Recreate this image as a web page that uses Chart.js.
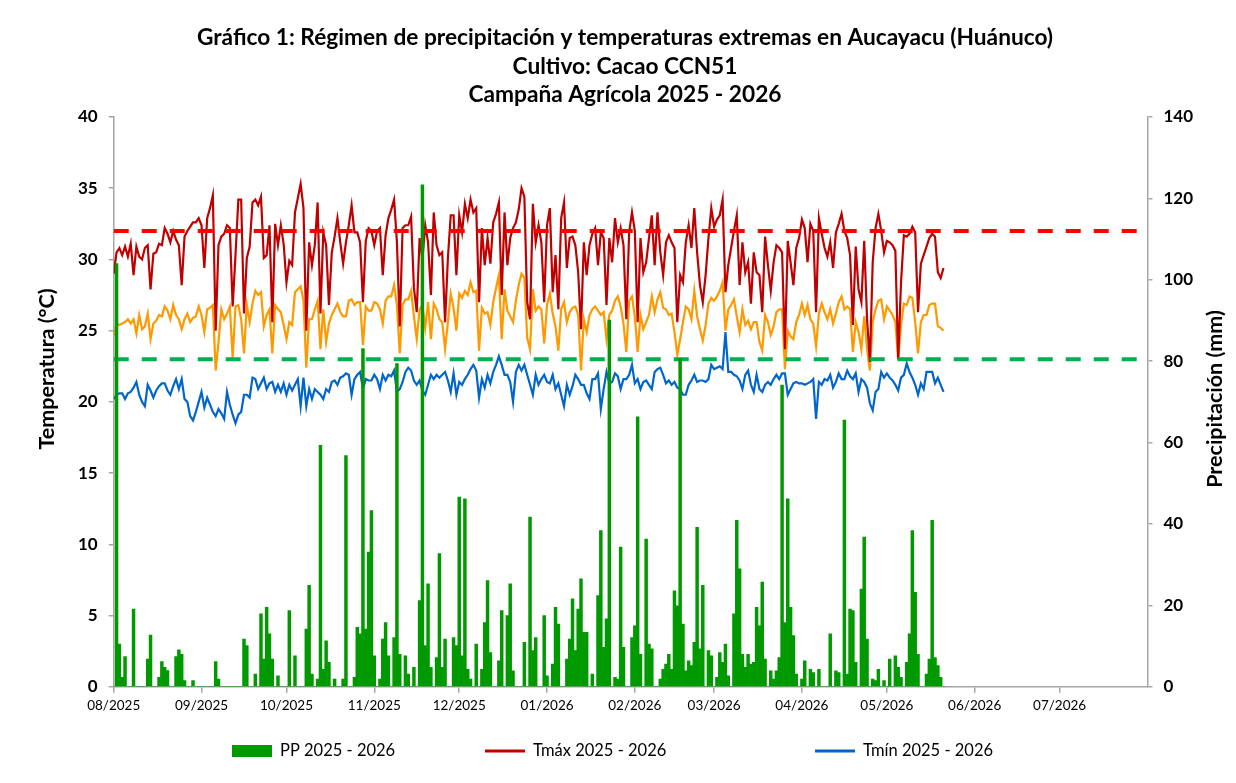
<!DOCTYPE html>
<html lang="es">
<head>
<meta charset="utf-8">
<title>Aucayacu - precipitación y temperaturas</title>
<script src="https://cdn.jsdelivr.net/npm/chart.js@4.4.1/dist/chart.umd.min.js"></script>
<style>
  html, body { margin: 0; padding: 0; background: #fff; }
  #marco { width: 1236px; height: 783px; }
  canvas { display: block; }
</style>
</head>
<body>
<div id="marco"><canvas id="grafico" width="1236" height="783"></canvas></div>
<script>
// etiquetas del eje X (inicio de cada mes)
const mesesTicks = ['08/2025', '09/2025', '10/2025', '11/2025', '12/2025', '01/2026',
                    '02/2026', '03/2026', '04/2026', '05/2026', '06/2026', '07/2026'];

// umbrales (°C)
const umbralTmax = 32;
const umbralTmin = 23;

// series diarias desde el 01/08/2025
const tmax = [
  29.0, 30.5, 30.8, 30.3, 30.9, 30.2, 31.1, 28.9, 30.9, 30.2,
  30.0, 30.8, 31.0, 27.9, 30.4, 30.5, 31.1, 31.0, 32.2, 31.8,
  31.2, 32.0, 31.4, 31.0, 28.2, 31.6, 32.0, 32.3, 32.6, 32.6,
  32.9, 32.4, 29.4, 32.9, 33.6, 34.5, 25.0, 31.0, 31.6, 31.8,
  32.4, 32.2, 26.7, 30.3, 34.2, 34.2, 26.2, 30.1, 30.9, 34.0,
  34.2, 33.8, 34.4, 30.1, 30.3, 32.4, 25.6, 32.5, 31.0, 32.4,
  31.1, 28.4, 29.9, 29.6, 33.3, 34.3, 35.3, 33.6, 25.0, 31.2,
  29.6, 31.0, 34.0, 26.2, 31.9, 31.0, 26.8, 30.5, 31.6, 32.9,
  31.2, 29.7, 31.2, 32.4, 33.8, 31.9, 31.9, 31.2, 27.0, 31.3,
  32.2, 32.0, 31.0, 32.0, 32.2, 28.9, 31.7, 32.9, 33.5, 34.2,
  31.2, 25.3, 32.2, 32.4, 32.4, 33.0, 28.0, 26.3, 31.5, 30.0,
  32.4, 31.2, 27.5, 33.3, 31.0, 30.3, 30.5, 25.6, 30.1, 33.1,
  33.1, 28.9, 33.1, 31.9, 33.9, 32.9, 34.2, 33.3, 33.6, 27.0,
  32.2, 29.6, 31.5, 29.7, 32.6, 33.2, 34.0, 27.5, 33.3, 29.6,
  31.5, 32.2, 32.6, 33.5, 35.0, 34.4, 27.0, 25.8, 33.9, 31.2,
  32.4, 31.2, 27.0, 32.4, 33.6, 27.7, 30.3, 26.5, 32.9, 34.0,
  29.4, 31.5, 31.6, 31.0, 29.1, 25.1, 31.2, 28.9, 31.0, 31.8,
  32.2, 29.6, 31.9, 31.5, 26.8, 31.5, 29.8, 32.9, 31.2, 32.2,
  31.0, 25.8, 31.9, 33.3, 32.0, 25.6, 31.5, 29.1, 29.8, 31.5,
  33.1, 29.6, 33.3, 30.5, 28.9, 31.2, 31.7, 31.2, 30.8, 25.6,
  28.9, 28.4, 31.2, 32.4, 30.8, 33.6, 30.5, 28.2, 27.0, 28.9,
  31.5, 33.6, 32.3, 32.8, 33.1, 34.2, 27.7, 29.6, 30.8, 32.0,
  33.1, 28.2, 31.2, 29.1, 29.8, 26.9, 30.5, 29.1, 28.9, 26.3,
  31.6, 29.6, 27.8, 29.8, 31.0, 30.8, 30.5, 23.7, 31.3, 29.8,
  28.2, 30.8, 31.5, 32.8, 32.2, 29.8, 32.5, 32.0, 26.3, 32.9,
  31.8, 30.8, 30.2, 31.2, 29.4, 31.9, 32.5, 33.2, 32.0, 31.5,
  30.3, 25.4, 30.9, 27.9, 27.0, 31.3, 25.8, 22.8, 29.8, 32.2,
  33.2, 32.0, 30.5, 31.3, 31.2, 31.0, 30.6, 23.0, 28.4, 31.7,
  31.6, 31.8, 32.3, 31.9, 26.3, 29.7, 30.3, 30.9, 31.5, 31.8,
  31.6, 29.1, 28.7, 29.4
];

const tmed = [
  24.6, 25.5, 25.4, 25.5, 25.6, 25.8, 25.5, 25.8, 24.8, 26.1,
  25.1, 25.3, 26.2, 24.4, 25.5, 25.7, 26.1, 26.0, 26.7, 26.4,
  25.8, 26.8, 26.1, 25.8, 25.1, 25.8, 26.2, 25.6, 25.9, 26.0,
  26.7, 26.1, 24.9, 26.5, 26.6, 26.8, 22.2, 24.2, 26.5, 25.8,
  26.2, 26.7, 23.1, 26.7, 26.8, 25.8, 23.4, 26.8, 25.6, 26.9,
  27.8, 27.5, 27.7, 25.3, 26.1, 26.5, 23.4, 26.8, 26.5, 26.3,
  25.4, 24.4, 25.6, 25.4, 27.7, 27.9, 28.1, 27.1, 22.4, 25.8,
  25.8, 26.5, 27.1, 23.7, 26.5, 24.2, 25.5, 26.1, 26.5, 26.9,
  26.3, 26.0, 26.0, 27.1, 27.2, 26.8, 27.0, 27.0, 24.0, 26.7,
  26.4, 26.4, 27.0, 26.9, 26.5, 25.5, 27.1, 27.4, 27.4, 28.2,
  26.8, 23.4, 26.8, 27.2, 27.2, 27.8, 26.0, 24.4, 26.5, 26.8,
  25.2, 27.0, 24.4, 26.9, 26.5, 25.8, 25.6, 23.7, 25.6, 27.6,
  26.6, 25.0, 27.6, 27.3, 27.8, 27.5, 28.4, 27.7, 27.8, 23.6,
  26.6, 26.2, 26.3, 25.4, 27.0, 28.0, 28.9, 24.4, 27.9, 26.4,
  26.0, 25.6, 27.1, 28.2, 29.0, 28.7, 24.5, 23.7, 27.9, 26.4,
  26.7, 26.5, 24.1, 26.8, 27.6, 26.2, 25.3, 23.6, 26.5, 27.0,
  25.6, 26.3, 26.6, 26.7, 26.1, 22.2, 25.8, 24.9, 26.1, 26.5,
  26.7, 26.4, 26.1, 26.3, 24.4, 26.1, 26.4, 27.1, 27.4, 26.7,
  25.5, 23.5, 27.1, 27.4, 26.0, 23.5, 26.1, 25.1, 25.6, 26.1,
  27.4, 26.3, 27.2, 27.7, 26.6, 26.5, 26.1, 26.2, 24.9, 23.3,
  24.4, 25.6, 26.7, 26.5, 25.8, 27.8, 26.0, 25.1, 24.3, 25.4,
  26.9, 27.3, 27.1, 27.4, 27.8, 28.4, 25.0, 26.5, 26.8, 27.2,
  26.0, 24.9, 26.5, 25.4, 25.7, 25.1, 25.6, 25.6, 24.2, 23.6,
  26.1, 25.6, 24.7, 25.3, 26.3, 26.5, 26.5, 22.3, 25.0, 24.6,
  24.4, 25.6, 26.1, 26.9, 26.1, 26.8, 25.8, 25.5, 23.9, 26.2,
  26.9, 26.3, 25.8, 26.5, 25.5, 26.2, 27.0, 27.4, 26.5, 26.7,
  26.5, 23.5, 25.6, 24.9, 23.7, 26.0, 23.7, 22.2, 25.6, 26.5,
  27.1, 27.2, 25.8, 26.7, 26.4, 26.1, 25.6, 22.9, 25.4, 26.9,
  26.8, 27.4, 27.3, 25.6, 23.4, 25.6, 26.1, 26.1, 26.8, 26.9,
  26.9, 25.3, 25.2, 25.0
];

const tmin = [
  20.2, 20.5, 20.6, 20.6, 20.2, 20.6, 20.7, 21.0, 21.4, 20.5,
  20.0, 19.7, 21.2, 20.8, 20.3, 20.8, 21.1, 21.3, 21.3, 20.8,
  20.5, 21.1, 21.6, 20.9, 21.6, 20.2, 20.0, 19.0, 18.7, 19.3,
  20.0, 20.7, 19.6, 20.3, 19.8, 19.3, 19.0, 19.5, 19.2, 18.8,
  20.7, 19.8, 19.1, 18.5, 19.1, 19.3, 20.5, 20.5, 20.3, 21.7,
  21.6, 20.9, 21.3, 21.7, 20.9, 21.3, 21.4, 20.7, 21.2, 20.7,
  21.3, 20.5, 21.2, 20.8, 21.2, 21.6, 19.7, 21.7, 19.7, 20.9,
  20.2, 20.9, 20.7, 20.5, 20.2, 20.9, 20.7, 21.4, 21.5, 21.2,
  21.7, 21.8, 22.0, 21.9, 20.5, 21.6, 21.9, 22.1, 20.9, 21.6,
  21.5, 21.5, 21.9, 21.6, 20.9, 21.9, 21.5, 21.9, 21.8, 22.2,
  20.7, 20.9, 21.4, 22.1, 22.4, 22.2, 21.5, 21.2, 21.5, 20.8,
  20.5, 21.2, 21.9, 21.6, 21.9, 21.7, 21.9, 22.1, 21.5, 20.7,
  22.0, 20.5, 21.4, 21.2, 21.6, 21.9, 22.3, 22.6, 22.2, 20.3,
  21.6, 21.0, 21.9, 21.3, 22.1, 22.6, 23.2, 22.6, 21.9, 21.9,
  21.4, 20.0, 22.1, 22.6, 22.2, 22.6, 21.9, 21.2, 20.5, 21.9,
  21.2, 21.6, 21.9, 21.4, 21.3, 21.9, 20.9, 21.3, 20.5, 19.7,
  21.2, 20.5, 21.1, 21.9, 21.6, 21.2, 21.2, 20.6, 20.2, 21.6,
  21.6, 22.0, 19.5, 20.9, 22.1, 21.3, 21.4, 22.0, 21.8, 20.9,
  21.6, 21.6, 21.9, 22.6, 21.3, 21.6, 20.9, 21.4, 21.5, 21.2,
  20.9, 22.1, 22.3, 22.4, 21.9, 21.3, 21.5, 21.2, 21.4, 21.0,
  20.9, 20.5, 20.5, 21.2, 21.5, 21.9, 21.4, 21.5, 21.5, 21.4,
  21.6, 22.6, 22.3, 22.4, 22.5, 22.3, 24.9, 22.1, 22.1, 21.9,
  21.8, 21.5, 20.9, 21.9, 22.2, 21.2, 20.7, 21.9, 20.9, 20.7,
  21.2, 21.4, 21.2, 21.6, 21.9, 21.6, 22.0, 22.0, 20.5, 20.9,
  21.3, 21.4, 21.3, 21.3, 21.2, 21.3, 21.4, 21.6, 18.8, 21.4,
  21.2, 21.6, 21.5, 21.9, 21.0, 21.4, 22.0, 21.6, 21.6, 22.2,
  21.8, 21.6, 22.0, 20.7, 21.6, 21.4, 21.0, 19.9, 19.4, 20.7,
  20.9, 22.1, 21.7, 22.0, 21.7, 21.5, 21.2, 20.8, 21.7, 21.9,
  22.7, 22.1, 21.7, 21.2, 20.5, 21.3, 20.9, 22.1, 22.1, 22.1,
  21.3, 21.7, 21.2, 20.7
];

// precipitación diaria (mm)
const pp = [
  0, 104, 10.5, 2.3, 7.4, 0, 0, 19.1, 0, 0,
  0, 0, 6.8, 12.7, 0, 0, 2.3, 6.2, 4.8, 4.0,
  0, 0, 7.4, 9.1, 8.0, 1.5, 0, 0, 1.5, 0,
  0, 0, 0, 0, 0, 0, 6.2, 1.9, 0, 0,
  0, 0, 0, 0, 0, 0, 11.7, 10.1, 0, 0,
  3.1, 0, 17.9, 6.8, 19.5, 13.0, 6.8, 0, 2.7, 0,
  0, 0, 18.7, 0, 7.6, 0, 0, 0, 14.2, 24.9,
  3.1, 0, 1.9, 59.3, 4.3, 11.3, 6.0, 0, 1.9, 0,
  0, 1.9, 56.8, 0, 0, 2.3, 14.6, 13.0, 83.1, 14.2,
  33.1, 43.3, 7.6, 0, 1.9, 11.7, 15.8, 7.6, 0, 12.1,
  79.4, 8.0, 0, 7.6, 3.1, 0, 4.8, 0, 21.2, 123.3,
  10.1, 25.3, 4.8, 0, 7.2, 32.7, 4.8, 11.7, 0, 0,
  12.1, 10.1, 46.6, 7.6, 46.2, 4.3, 1.9, 0, 10.5, 0,
  4.3, 15.8, 26.1, 8.4, 0, 0, 6.4, 18.7, 0, 17.5,
  25.3, 3.9, 0, 0, 0, 10.9, 0, 41.7, 8.9, 12.1,
  0, 0, 17.5, 2.7, 0, 5.6, 19.5, 15.4, 0, 0,
  6.8, 11.7, 21.6, 8.9, 19.1, 26.5, 13.4, 13.4, 0, 3.1,
  0, 22.4, 38.4, 9.7, 16.7, 90.1, 0, 2.3, 1.9, 34.3,
  9.7, 0, 0, 12.1, 15.0, 66.3, 8.0, 0, 36.3, 10.5,
  9.3, 0, 0, 1.9, 4.3, 5.6, 8.0, 4.3, 23.6, 19.9,
  80.6, 15.4, 3.9, 6.4, 5.2, 10.9, 39.2, 9.3, 24.9, 0,
  8.9, 7.6, 0, 2.3, 8.4, 6.0, 10.5, 2.7, 0, 17.9,
  40.9, 29.0, 8.0, 4.8, 8.0, 5.6, 6.0, 19.5, 15.0, 25.7,
  6.8, 0, 3.9, 1.9, 3.9, 7.2, 74.1, 15.8, 46.2, 19.5,
  12.6, 3.1, 0, 1.9, 6.4, 0, 4.3, 3.5, 0, 4.3,
  0, 0, 0, 13.0, 0, 3.9, 3.5, 0, 65.5, 3.1,
  19.1, 18.7, 6.0, 0, 24.0, 36.8, 11.7, 0, 1.9, 1.5,
  4.3, 0, 1.5, 0, 6.8, 0, 7.6, 4.8, 2.3, 0,
  6.0, 13.0, 38.4, 23.2, 8.0, 0, 0, 3.1, 6.8, 40.9,
  7.2, 5.2, 2.3, 0
];

const FUENTE = 'Lato, "Open Sans", sans-serif';
const DIA_MS = 86400000;
const inicio = Date.UTC(2025, 7, 1);

// día (desde 01/08/2025) en que empieza cada mes del eje
const inicioMes = mesesTicks.map((m) => {
  const [mes, anio] = m.split('/').map(Number);
  return Math.round((Date.UTC(anio, mes - 1, 1) - inicio) / DIA_MS);
});
const finEje = Math.round((Date.UTC(2026, 7, 1) - inicio) / DIA_MS);

const dias = tmax.map((_, i) => i);
const serie = (valores) => dias.map((d, i) => ({ x: d, y: valores[i] }));

// leyenda al estilo Excel: entradas repartidas a lo ancho
const leyenda = {
  id: 'leyenda',
  afterDraw(chart) {
    const ctx = chart.ctx;
    const entradas = chart.data.datasets.filter((d) => d.enLeyenda);
    const inicioX = [232, 485, 815];
    const caja = 40, sep = 8, y = 751;
    ctx.save();
    ctx.font = '16.5px ' + FUENTE;
    ctx.textBaseline = 'middle';
    entradas.forEach((d, i) => {
      const x = inicioX[i];
      if (d.type === 'bar') {
        ctx.fillStyle = d.backgroundColor;
        ctx.fillRect(x, y - 6, caja, 12);
      } else {
        ctx.strokeStyle = d.borderColor;
        ctx.lineWidth = 3;
        ctx.beginPath();
        ctx.moveTo(x, y);
        ctx.lineTo(x + caja, y);
        ctx.stroke();
      }
      ctx.fillStyle = '#000';
      ctx.fillText(d.label, x + caja + sep, y);
    });
    ctx.restore();
  }
};

// títulos de los ejes Y girados como en Excel (de abajo hacia arriba)
const titulosY = {
  id: 'titulosY',
  afterDraw(chart) {
    const ctx = chart.ctx;
    [['y', 369], ['y1', 399]].forEach(([id, centroY]) => {
      const eje = chart.scales[id];
      const t = eje.options.title;
      const alto = t.font.size;
      const x = eje.position === 'left'
        ? eje.left + t.padding.top + alto / 2
        : eje.right - t.padding.top - alto / 2;
      ctx.save();
      ctx.translate(x, centroY);
      ctx.rotate(-Math.PI / 2);
      ctx.font = 'bold ' + alto + 'px ' + FUENTE;
      ctx.fillStyle = '#000';
      ctx.textAlign = 'center';
      ctx.textBaseline = 'middle';
      ctx.fillText(t.text, 0, 0);
      ctx.restore();
    });
  }
};

const ejeGris = '#A6A6A6';
const invisible = 'rgba(0,0,0,0)';

new Chart(document.getElementById('grafico'), {
  type: 'bar',
  data: {
    datasets: [
      {
        type: 'bar',
        label: 'PP 2025 - 2026',
        data: serie(pp),
        yAxisID: 'y1',
        backgroundColor: '#009900',
        borderWidth: 0,
        barPercentage: 1,
        categoryPercentage: 1,
        order: 0,
        enLeyenda: true
      },
      {
        type: 'line',
        label: 'Umbral Tmáx',
        data: [{ x: 0, y: umbralTmax }, { x: finEje, y: umbralTmax }],
        yAxisID: 'y',
        borderColor: '#FF0000',
        borderWidth: 4,
        borderDash: [15, 13],
        pointRadius: 0,
        order: 1
      },
      {
        type: 'line',
        label: 'Umbral Tmín',
        data: [{ x: 0, y: umbralTmin }, { x: finEje, y: umbralTmin }],
        yAxisID: 'y',
        borderColor: '#00B050',
        borderWidth: 4,
        borderDash: [15, 13],
        pointRadius: 0,
        order: 1
      },
      {
        type: 'line',
        label: 'Tmáx 2025 - 2026',
        data: serie(tmax),
        yAxisID: 'y',
        borderColor: '#C00000',
        borderWidth: 2.2,
        pointRadius: 0,
        order: 2,
        enLeyenda: true
      },
      {
        type: 'line',
        label: 'Tmín 2025 - 2026',
        data: serie(tmin),
        yAxisID: 'y',
        borderColor: '#0066CC',
        borderWidth: 2.2,
        pointRadius: 0,
        order: 3,
        enLeyenda: true
      },
      {
        type: 'line',
        label: 'Tmed 2025 - 2026',
        data: serie(tmed),
        yAxisID: 'y',
        borderColor: '#FF9900',
        borderWidth: 2.2,
        pointRadius: 0,
        order: 4
      }
    ]
  },
  options: {
    responsive: false,
    animation: false,
    devicePixelRatio: 1,
    layout: { padding: { left: 14, right: 0, top: 0, bottom: 64 } },
    plugins: {
      legend: { display: false },
      tooltip: { enabled: false },
      title: {
        display: true,
        text: [
          'Gráfico 1: Régimen de precipitación y temperaturas extremas en Aucayacu (Huánuco)',
          'Cultivo: Cacao CCN51',
          'Campaña Agrícola 2025 - 2026'
        ],
        color: '#000',
        font: { family: FUENTE, size: 22.7, weight: 'bold', lineHeight: 1.255 },
        padding: { top: 23.75, bottom: 7.75 }
      }
    },
    scales: {
      x: {
        type: 'linear',
        min: 0,
        max: finEje,
        offset: false,
        afterBuildTicks: (eje) => { eje.ticks = inicioMes.map((v) => ({ value: v })); },
        ticks: {
          autoSkip: false,
          maxRotation: 0,
          padding: 5,
          color: '#000',
          font: { family: FUENTE, size: 13.5 },
          callback: (v, i) => mesesTicks[i]
        },
        grid: { drawOnChartArea: false, offset: false, tickLength: 6, color: ejeGris, lineWidth: 1.5 },
        border: { color: ejeGris, width: 1.5 }
      },
      y: {
        position: 'left',
        min: 0,
        max: 40,
        ticks: { stepSize: 5, padding: 11, color: '#000', font: { family: FUENTE, size: 17, weight: 'bold' } },
        title: {
          display: true,
          text: 'Temperatura (°C)',
          color: invisible,
          font: { family: FUENTE, size: 21.5, weight: 'bold', lineHeight: 1 },
          padding: { top: 22, bottom: 9.5 }
        },
        grid: { drawOnChartArea: false, tickLength: 5, color: ejeGris, lineWidth: 1.5 },
        border: { color: ejeGris, width: 1.5 }
      },
      y1: {
        position: 'right',
        min: 0,
        max: 140,
        ticks: { stepSize: 20, padding: 11, color: '#000', font: { family: FUENTE, size: 17, weight: 'bold' } },
        title: {
          display: true,
          text: 'Precipitación (mm)',
          color: invisible,
          font: { family: FUENTE, size: 21.5, weight: 'bold', lineHeight: 1 },
          padding: { top: 10.25, bottom: 0.25 }
        },
        grid: { drawOnChartArea: false, tickLength: 5, color: ejeGris, lineWidth: 1.5 },
        border: { color: ejeGris, width: 1.5 }
      }
    }
  },
  plugins: [leyenda, titulosY]
});
</script>
</body>
</html>
